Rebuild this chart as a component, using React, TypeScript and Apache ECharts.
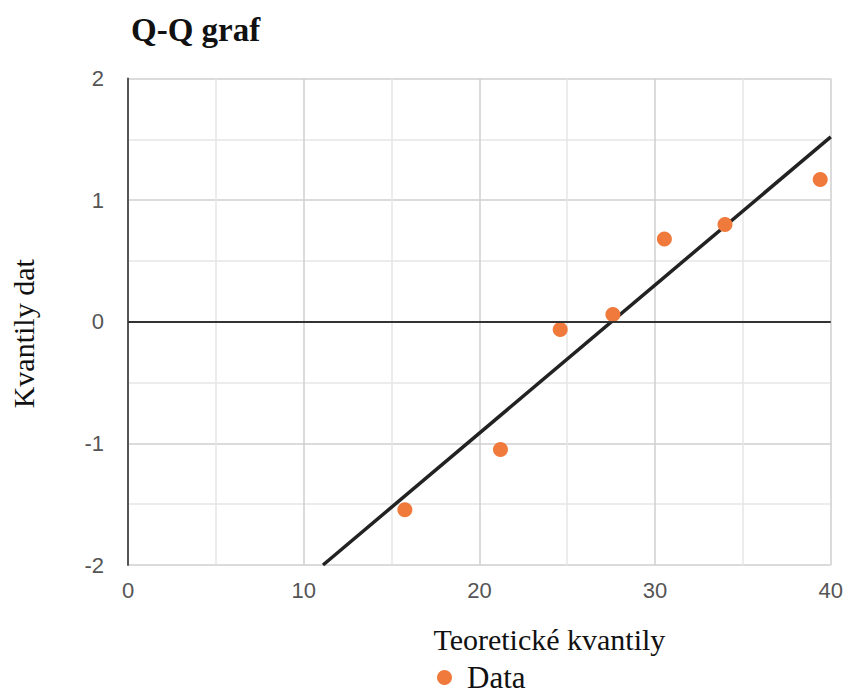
import React, { useEffect, useRef } from "react";
import * as echarts from "echarts";

const theoreticalQuantiles = [15.76, 21.2, 24.6, 27.6, 30.53, 33.98, 39.4];
const dataQuantiles = [-1.545, -1.05, -0.063, 0.06, 0.68, 0.8, 1.17];
const trendX = [11.1, 40];
const trendY = [-2, 1.52];
const xTicks = [0, 10, 20, 30, 40];
const yTicks = [-2, -1, 0, 1, 2];

export default function App() {
  const ref = useRef<HTMLDivElement>(null);
  useEffect(() => {
    document.body.style.margin = "0";
    const chart = echarts.init(ref.current!, null, { renderer: "svg" });
    const serif = "'Liberation Serif', 'DejaVu Serif', serif";
    const sans = "'Liberation Sans', Arial, sans-serif";
    chart.setOption({
      animation: false,
      backgroundColor: "#ffffff",
      title: {
        text: "Q-Q graf",
        left: 126,
        top: 8,
        textStyle: { fontFamily: serif, fontWeight: "bold", fontSize: 33, color: "#111" },
      },
      grid: { left: 127.7, right: 14.3, top: 78.5, bottom: 130 },
      legend: {
        data: [{ name: "Data", icon: "circle" }],
        left: 432,
        top: 657,
        itemWidth: 15,
        itemHeight: 15,
        itemGap: 8,
        textStyle: { fontFamily: serif, fontSize: 31, color: "#111", padding: [0, 0, 0, 10] },
      },
      xAxis: {
        type: "value",
        min: xTicks[0],
        max: xTicks[xTicks.length - 1],
        interval: 10,
        name: "Teoretické kvantily",
        nameLocation: "middle",
        nameGap: 59,
        nameTextStyle: { fontFamily: serif, fontSize: 30, color: "#111", padding: [0, 0, 0, 140] },
        axisLine: { show: false, onZero: false },
        axisTick: { show: false },
        axisLabel: { fontFamily: sans, fontSize: 22, color: "#555", margin: 14 },
        splitLine: { show: true, lineStyle: { color: "#cfcfcf", width: 1.5 } },
        minorTick: { show: false, splitNumber: 2 },
        minorSplitLine: { show: true, lineStyle: { color: "#e6e6e6", width: 1.5 } },
      },
      yAxis: {
        type: "value",
        min: yTicks[0],
        max: yTicks[yTicks.length - 1],
        interval: 1,
        name: "Kvantily dat",
        nameLocation: "middle",
        nameGap: 90,
        nameTextStyle: { fontFamily: serif, fontSize: 30, color: "#111", padding: [0, 0, 0, -24] },
        axisLine: { show: true, onZero: false, lineStyle: { color: "#555", width: 2 } },
        axisTick: { show: false },
        axisLabel: { fontFamily: sans, fontSize: 22, color: "#555", margin: 24 },
        splitLine: { show: true, lineStyle: { color: "#cfcfcf", width: 1.5 } },
        minorTick: { show: false, splitNumber: 2 },
        minorSplitLine: { show: true, lineStyle: { color: "#e6e6e6", width: 1.5 } },
      },
      series: [
        {
          name: "Trend",
          type: "line",
          data: trendX.map((x, i) => [x, trendY[i]]),
          showSymbol: false,
          symbol: "none",
          lineStyle: { color: "#222", width: 3.5 },
          silent: true,
          z: 3,
          markLine: {
            silent: true,
            symbol: "none",
            label: { show: false },
            lineStyle: { color: "#333", width: 2, type: "solid" },
            data: [{ yAxis: 0 }],
          },
        },
        {
          name: "Data",
          type: "scatter",
          data: theoreticalQuantiles.map((x, i) => [x, dataQuantiles[i]]),
          symbol: "circle",
          symbolSize: 15,
          itemStyle: { color: "#F07A3C", opacity: 1 },
          z: 4,
        },
      ],
    });
    return () => chart.dispose();
  }, []);
  return <div ref={ref} style={{ width: 846, height: 695 }} />;
}
